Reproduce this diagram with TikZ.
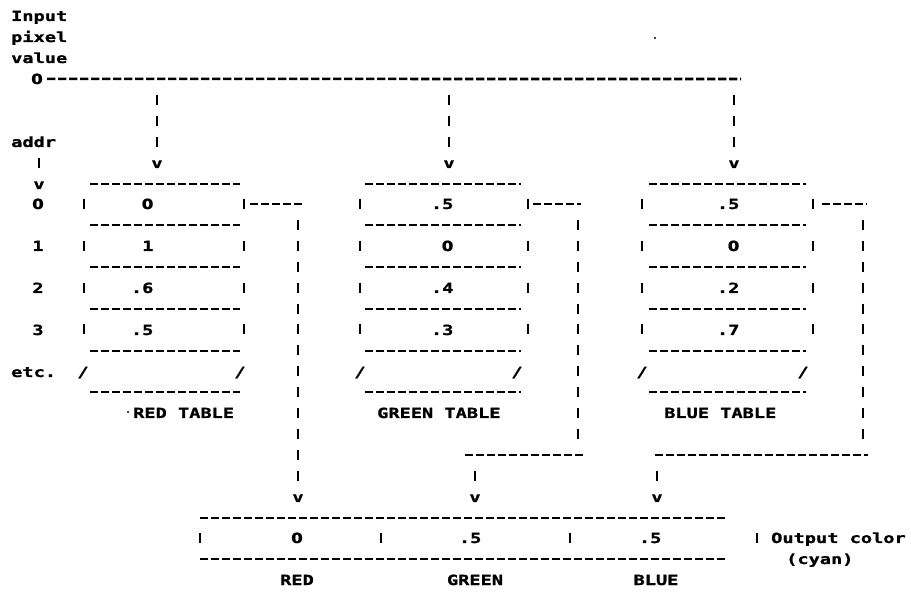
\documentclass[tikz,border=0pt]{standalone}
\usepackage{fontspec}
\newfontfamily\lpfont[FakeStretch=1.33,FakeBold=1.2]{DejaVu Sans Mono}
\newfontfamily\lpzfont[FakeStretch=1.2,FakeBold=1.2]{DejaVu Sans}
% plain (undotted) zero
\newcommand\zd{{\lpzfont 0}}
\tikzset{
  ch/.style={font=\lpfont\bfseries\fontsize{14pt}{15pt}\selectfont, inner sep=0pt, anchor=base},
  hdash/.style={line width=2.6pt, dash pattern=on 8.4pt off 2.6pt},
  bars/.style={line width=2.6pt, dash pattern=on 10pt off 10.9pt},
  sides/.style={line width=2.6pt, dash pattern=on 10pt off 31.8pt},
  lead/.style={bars, shorten >=3.5pt},
  bar/.style={line width=2.6pt},
}
\begin{document}
\begin{tikzpicture}[x=1pt,y=-1pt]
\useasboundingbox (0,0) rectangle (911,593);

% input pixel value and its bus
\node[ch,anchor=base west] (tInput) at (11,21) {Input};
\node[ch,anchor=base west] (tPixel) at (11,42) {pixel};
\node[ch,anchor=base west] (tValue) at (11,63) {value};
\node[ch] (in0) at (37,84) {\zd};
\coordinate (busEnd) at (741,79);
\draw[hdash] ([xshift=4pt]in0.east) -- (busEnd);

% drops from the bus into each table
\foreach \n/\x in {R/157,G/449,B/734}{
  \coordinate (drop\n) at (\x,95);
  \node[ch] (v\n) at (\x,168) {v};
  \draw[lead] (drop\n) -- (v\n.north);
}

% address column
\node[ch,anchor=base west] (tAddr) at (11,147) {addr};
\coordinate (addrTop) at (39,158);
\node[ch] (vA) at (39,189) {v};
\draw[lead] (addrTop) -- (vA.north);
\foreach \i/\y/\t in {0/209/\zd,1/251/1,2/293/2,3/335/3}
  \node[ch] (addr\i) at (38,\y) {\t};
\node[ch,anchor=base west] (tEtc) at (11,377) {etc.};

% the three lookup tables
\foreach \n/\xl/\xr/\a/\b/\dx/\va/\vb/\vc/\vd/\sl/\sr/\lx/\lab in {
  R/84/244/90/240/148/\zd/1/.6/.5/83/240/133/RED TABLE,
  G/360/528/365/521/448/.5/\zd/.4/.3/360/517/377/GREEN TABLE,
  B/642/813/649/806/734/.5/\zd/.2/.7/642/803/664/BLUE TABLE}{
  \foreach \y in {184,225,267,309,351,392}
    \draw[hdash] (\a,\y) -- (\b,\y);
  \draw[sides] (\xl,199) -- (\xl,336);
  \draw[sides] (\xr,199) -- (\xr,336);
  \node[ch,anchor=base east] (\n0) at (\dx+5.6,209) {\va};
  \node[ch,anchor=base east] (\n1) at (\dx+5.6,251) {\vb};
  \node[ch,anchor=base east] (\n2) at (\dx+5.6,293) {\vc};
  \node[ch,anchor=base east] (\n3) at (\dx+5.6,335) {\vd};
  \node[ch] (\n etcL) at (\sl,377) {/};
  \node[ch] (\n etcR) at (\sr,377) {/};
  \node[ch,anchor=base west] (\n lab) at (\lx,418) {\lab};
}

% output register
\draw[hdash] (200,518) -- (727,518);
\draw[hdash] (200,559) -- (727,559);
\foreach \x in {200,381,570,757}
  \draw[bar] (\x,533) -- (\x,543);
\node[ch] (oR) at (297,543) {\zd};
\node[ch,anchor=base east] (oG) at (481.6,543) {.5};
\node[ch,anchor=base east] (oB) at (661.6,543) {.5};
\node[ch] (lR) at (297,585) {RED};
\node[ch] (lG) at (475,585) {GREEN};
\node[ch] (lB) at (656,585) {BLUE};
\node[ch,anchor=base west] (tOut) at (771,543) {Output color};
\node[ch,anchor=base west] (tCyan) at (786,564) {(cyan)};

% red entry -> output red
\coordinate (Rout) at (250,204);
\coordinate (Rcorner) at (302,204);
\draw[hdash] (Rout) -- (Rcorner);
\coordinate (Rdown) at (298,220);
\node[ch] (vRo) at (298,502) {v};
\draw[lead] (Rdown) -- (vRo.north);

% green entry -> output green
\coordinate (Gout) at (533,204);
\coordinate (Gcorner) at (581,204);
\draw[hdash] (Gout) -- (Gcorner);
\coordinate (Gdown) at (578,220);
\coordinate (Gfoot) at (578,439);
\draw[bars] (Gdown) -- (Gfoot);
\coordinate (GturnL) at (465,455);
\coordinate (GturnR) at (583,455);
\draw[hdash] (GturnL) -- (GturnR);
\coordinate (Gdrop) at (475,471);
\node[ch] (vGo) at (475,502) {v};
\draw[lead] (Gdrop) -- (vGo.north);

% blue entry -> output blue
\coordinate (Bout) at (822,204);
\coordinate (Bcorner) at (867,204);
\draw[hdash] (Bout) -- (Bcorner);
\coordinate (Bdown) at (863,220);
\coordinate (Bfoot) at (863,439);
\draw[bars] (Bdown) -- (Bfoot);
\coordinate (BturnL) at (655,455);
\coordinate (BturnR) at (868,455);
\draw[hdash] (BturnL) -- (BturnR);
\coordinate (Bdrop) at (657,471);
\node[ch] (vBo) at (657,502) {v};
\draw[lead] (Bdrop) -- (vBo.north);

% stray printer specks
\fill (128,412) circle (1.2pt);
\fill (655,38) circle (1.2pt);
\end{tikzpicture}
\end{document}
